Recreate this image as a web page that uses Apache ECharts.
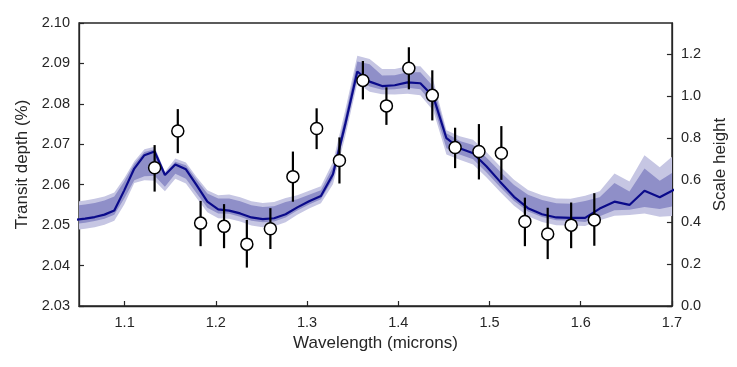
<!DOCTYPE html>
<html>
<head>
<meta charset="utf-8">
<script src="https://cdn.jsdelivr.net/npm/echarts@6/dist/echarts.min.js"></script>
<style>html,body{margin:0;padding:0;background:#fff;}#c{width:737px;height:367px;}</style>
</head>
<body>
<div id="c"></div>
<script>
// Model spectrum grid (microns) and transit depth (%)
const wave = [1.0462,1.0567,1.0672,1.0779,1.0887,1.0996,1.1106,1.1217,1.1329,1.1442,
  1.1556,1.1672,1.1789,1.1907,1.2026,1.2146,1.2267,1.2390,1.2514,1.2639,
  1.2765,1.2893,1.3022,1.3152,1.3284,1.3417,1.3551,1.3686,1.3823,1.3961,
  1.4101,1.4242,1.4384,1.4528,1.4673,1.4820,1.4968,1.5118,1.5269,1.5422,
  1.5576,1.5732,1.5889,1.6048,1.6208,1.6370,1.6534,1.6699,1.6866,1.7035];
const model = [2.0513,2.0516,2.0520,2.0526,2.0536,2.0586,2.0640,2.0673,2.0682,2.0624,
  2.0650,2.0638,2.0599,2.0558,2.0539,2.0536,2.0529,2.0519,2.0515,2.0517,
  2.0527,2.0544,2.0559,2.0572,2.0626,2.0748,2.0880,2.0855,2.0844,2.0846,
  2.0853,2.0851,2.0818,2.0715,2.0690,2.0678,2.0645,2.0607,2.0570,2.0542,
  2.0527,2.0519,2.0518,2.0518,2.0541,2.0558,2.0550,2.0585,2.0569,2.0589];
// Band half-widths (%): outer (2 sigma) and inner (1 sigma)
const outerUp = [.0045,.0045,.0045,.0045,.0045,.0030,.0018,.0015,.0012,.0008,
  .0015,.0017,.0020,.0028,.0035,.0040,.0040,.0040,.0040,.0040,
  .0040,.0030,.0026,.0024,.0030,.0035,.0039,.0056,.0042,.0040,
  .0040,.0042,.0040,.0020,.0030,.0033,.0035,.0038,.0042,.0045,
  .0047,.0047,.0047,.0055,.0043,.0070,.0058,.0088,.0074,.0087];
const innerUp = [.0035,.0035,.0035,.0035,.0035,.0022,.0012,.0008,.0006,.0004,
  .0007,.0010,.0013,.0020,.0027,.0030,.0030,.0030,.0030,.0030,
  .0030,.0020,.0016,.0014,.0018,.0020,.0025,.0043,.0026,.0025,
  .0025,.0027,.0025,.0012,.0018,.0020,.0022,.0025,.0029,.0033,
  .0035,.0035,.0035,.0042,.0028,.0046,.0033,.0055,.0041,.0045];
const innerDown = [.0010,.0010,.0010,.0010,.0010,.0020,.0029,.0052,.0060,.0029,
  .0023,.0023,.0020,.0015,.0010,.0008,.0008,.0008,.0008,.0008,
  .0008,.0008,.0008,.0008,.0012,.0015,.0017,.0012,.0009,.0010,
  .0013,.0015,.0020,.0025,.0015,.0015,.0015,.0013,.0010,.0008,
  .0007,.0007,.0007,.0010,.0019,.0021,.0012,.0040,.0029,.0041];
const outerDown = [.0025,.0025,.0025,.0025,.0025,.0035,.0036,.0062,.0072,.0040,
  .0035,.0035,.0032,.0026,.0022,.0020,.0020,.0020,.0020,.0020,
  .0020,.0018,.0018,.0018,.0025,.0030,.0029,.0025,.0020,.0023,
  .0028,.0030,.0035,.0040,.0028,.0028,.0027,.0025,.0022,.0020,
  .0019,.0019,.0019,.0020,.0029,.0035,.0025,.0056,.0048,.0066];
// Observed points
const obsWave = [1.1329,1.1583,1.1833,1.2090,1.2340,1.2598,1.2845,1.3105,1.3355,1.3612,
  1.3870,1.4116,1.4373,1.4623,1.4884,1.5130,1.5388,1.5638,1.5895,1.6149];
const obsDepth = [2.0642,2.0733,2.0505,2.0497,2.0453,2.0491,2.0620,2.0739,2.0660,2.0858,
  2.0795,2.0888,2.0821,2.0692,2.0682,2.0678,2.0509,2.0478,2.0500,2.0513];
const obsLow = [2.0583,2.0678,2.0448,2.0443,2.0395,2.0441,2.0558,2.0688,2.0603,2.0811,
  2.0748,2.0836,2.0759,2.0641,2.0613,2.0612,2.0448,2.0416,2.0443,2.0449];
const obsHigh = [2.0698,2.0787,2.0560,2.0552,2.0513,2.0542,2.0682,2.0789,2.0717,2.0906,
  2.0841,2.0940,2.0883,2.0741,2.0750,2.0745,2.0568,2.0543,2.0556,2.0579];
// Tick labels
const xTicks = [1.1,1.2,1.3,1.4,1.5,1.6,1.7];
const rightTicks = [0,0.2,0.4,0.6,0.8,1.0,1.2];

const LIGHT = '#c6c6e3', DARK = '#8f8fc8', NAVY = '#0a0a8a', INK = '#262626';
const FONT = 'Liberation Sans, Arial, sans-serif';

const lo2 = model.map((m,i)=>m-outerDown[i]);
const lo1 = model.map((m,i)=>m-innerDown[i]);
const hi1 = model.map((m,i)=>m+innerUp[i]);
const hi2 = model.map((m,i)=>m+outerUp[i]);

function bandSeries(name, upper, lower, color, z){
  return {name, type:'custom', z, silent:true, clip:true,
    data:[[wave[0], upper[0]]],
    renderItem:(params, api)=>{
      const pts = [];
      for (let i=0;i<wave.length;i++) pts.push(api.coord([wave[i], upper[i]]));
      for (let i=wave.length-1;i>=0;i--) pts.push(api.coord([wave[i], lower[i]]));
      const cs = params.coordSys;
      return {type:'polygon', shape:{points:pts}, style:{fill:color, stroke:null},
        clipPath:{type:'rect', shape:{x:cs.x, y:cs.y, width:cs.width, height:cs.height}}};
    }};
}

const chart = echarts.init(document.getElementById('c'), null, {renderer:'canvas'});
chart.setOption({
  animation:false,
  backgroundColor:'#fff',
  textStyle:{fontFamily:FONT},
  grid:{left:79, right:62, top:23, bottom:61, show:true, borderColor:INK, borderWidth:1.3, backgroundColor:'transparent'},
  xAxis:{type:'value', min:1.05, max:1.7,
    name:'Wavelength (microns)', nameLocation:'middle', nameGap:25,
    nameTextStyle:{fontSize:17, color:INK, fontFamily:FONT},
    axisLine:{show:true, lineStyle:{color:INK, width:1.3}},
    axisTick:{show:true, inside:true, length:5, customValues:xTicks, lineStyle:{color:INK, width:1.2}},
    axisLabel:{customValues:xTicks, fontSize:14.5, color:INK, margin:9, fontFamily:FONT,
      formatter:v=>v.toFixed(1)},
    splitLine:{show:false}},
  yAxis:[{type:'value', min:2.03, max:2.10, interval:0.01,
    name:'Transit depth (%)', nameLocation:'middle', nameGap:41, nameRotate:90,
    nameTextStyle:{fontSize:17, color:INK, fontFamily:FONT},
    axisLine:{show:true, lineStyle:{color:INK, width:1.3}},
    axisTick:{show:true, inside:true, length:5, lineStyle:{color:INK, width:1.2}},
    axisLabel:{fontSize:14.5, color:INK, margin:9, fontFamily:FONT, formatter:v=>v.toFixed(2)},
    splitLine:{show:false}},
   {type:'value', position:'right', min:0, max:1.35,
    name:'Scale height', nameLocation:'middle', nameGap:36, nameRotate:90,
    nameTextStyle:{fontSize:17, color:INK, fontFamily:FONT},
    axisLine:{show:true, lineStyle:{color:INK, width:1.3}},
    axisTick:{show:true, inside:true, length:5, customValues:rightTicks, lineStyle:{color:INK, width:1.2}},
    axisLabel:{customValues:rightTicks, fontSize:14.5, color:INK, margin:9, fontFamily:FONT, formatter:v=>v.toFixed(1)},
    splitLine:{show:false}}],
  series:[
    bandSeries('outer', hi2, lo2, LIGHT, 1),
    bandSeries('inner', hi1, lo1, DARK, 2),
    {name:'model', type:'line', data:wave.map((w,i)=>[w, model[i]]), showSymbol:false, symbol:'none',
      lineStyle:{color:NAVY, width:2.2}, z:3, silent:true},
    {name:'errors', type:'custom', z:4, silent:true,
      data: obsWave.map((w,i)=>[w, obsLow[i], obsHigh[i]]),
      renderItem:(params, api)=>{
        const a = api.coord([api.value(0), api.value(1)]);
        const b = api.coord([api.value(0), api.value(2)]);
        return {type:'line', shape:{x1:a[0], y1:a[1], x2:b[0], y2:b[1]},
          style:{stroke:'#000', lineWidth:2.2}};
      }},
    {name:'obs', type:'scatter', z:5, silent:true,
      data: obsWave.map((w,i)=>[w, obsDepth[i]]),
      symbol:'circle', symbolSize:12,
      itemStyle:{color:'#fff', borderColor:'#000', borderWidth:1.5, opacity:1}}
  ]
});
</script>
</body>
</html>
